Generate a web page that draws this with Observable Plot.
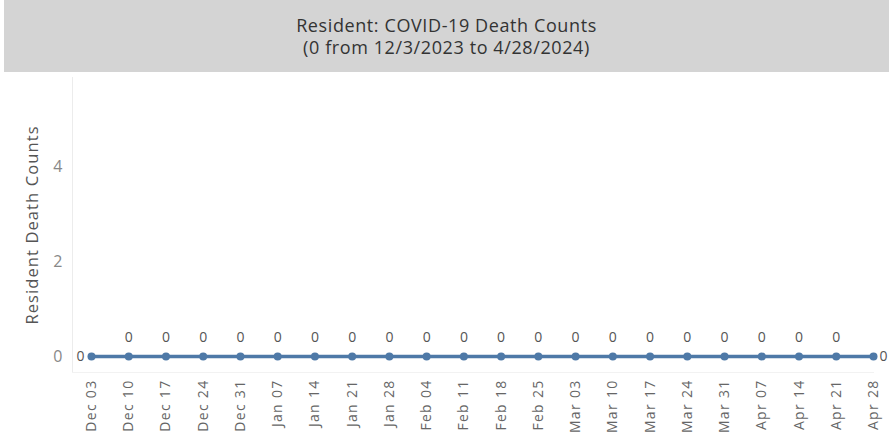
<!DOCTYPE html>
<html>
<head>
<meta charset="utf-8">
<script src="https://cdn.jsdelivr.net/npm/d3@7"></script>
<script src="https://cdn.jsdelivr.net/npm/@observablehq/plot@0.6"></script>
<style>
  html, body { margin: 0; padding: 0; background: #fff; }
  #title {
    margin-left: 4px; width: 885px; height: 72px; background: #d4d4d4;
    font-family: "Open Sans", sans-serif; color: #333; font-size: 18px; letter-spacing: 0.6px;
    text-align: center; line-height: 22px; box-sizing: border-box; padding-top: 14px;
  }
  #chart svg { display: block; }
  #chart g[aria-label="x-axis tick label"] text { letter-spacing: 1.3px; }
  #chart g.ylab text { letter-spacing: 1.1px; }
</style>
</head>
<body>
<div id="title">Resident: COVID-19 Death Counts<br>(0 from 12/3/2023 to 4/28/2024)</div>
<div id="chart"></div>
<script>
const weeks = ["2023-12-03","2023-12-10","2023-12-17","2023-12-24","2023-12-31","2024-01-07","2024-01-14","2024-01-21","2024-01-28","2024-02-04","2024-02-11","2024-02-18","2024-02-25","2024-03-03","2024-03-10","2024-03-17","2024-03-24","2024-03-31","2024-04-07","2024-04-14","2024-04-21","2024-04-28"];
const deaths = [0,0,0,0,0,0,0,0,0,0,0,0,0,0,0,0,0,0,0,0,0,0];
const yTicks = [0, 2, 4];
const yLabel = "Resident Death Counts";

const data = weeks.map((w, i) => ({date: new Date(w + "T00:00:00Z"), value: deaths[i], i}));
const n = data.length;
const fmt = d3.utcFormat("%b %d");
const blue = "#4e79a7";

const chart = Plot.plot({
  width: 889,
  height: 374,
  marginLeft: 72,
  marginRight: 16,
  marginTop: 5,
  marginBottom: 74,
  insetLeft: 19,
  insetBottom: 16,
  style: {fontFamily: "Open Sans, sans-serif", background: "#fff"},
  x: {type: "utc", domain: [data[0].date, data[n - 1].date]},
  y: {domain: [0, 5.9]},
  marks: [
    Plot.frame({anchor: "left", stroke: "#ececec"}),
    Plot.frame({anchor: "bottom", stroke: "#f2f2f2"}),
    Plot.axisY({ticks: yTicks, tickSize: 0, tickPadding: 10, fontSize: 16, color: "#888", label: null, tickFormat: d => d}),
    Plot.axisX({ticks: data.map(d => d.date), tickSize: 0, tickPadding: 7, tickRotate: -90, fontSize: 14, color: "#666", label: null, tickFormat: fmt}),
    Plot.text([yLabel], {frameAnchor: "left", dx: -40, rotate: -90, textAnchor: "middle", fontSize: 16.5, fill: "#555", className: "ylab"}),
    Plot.line(data, {x: "date", y: "value", stroke: blue, strokeWidth: 3.5}),
    Plot.dot(data, {x: "date", y: "value", r: 4, fill: blue, stroke: "none"}),
    Plot.text(data.filter(d => d.i > 0 && d.i < n - 1), {x: "date", y: "value", text: d => String(d.value), dy: -19, fontSize: 14, fill: "#555"}),
    Plot.text(data.filter(d => d.i === 0), {x: "date", y: "value", text: d => String(d.value), dx: -11, fontSize: 14, fill: "#555"}),
    Plot.text(data.filter(d => d.i === n - 1), {x: "date", y: "value", text: d => String(d.value), dx: 10, fontSize: 14, fill: "#555"})
  ]
});
document.getElementById("chart").appendChild(chart);
</script>
</body>
</html>
